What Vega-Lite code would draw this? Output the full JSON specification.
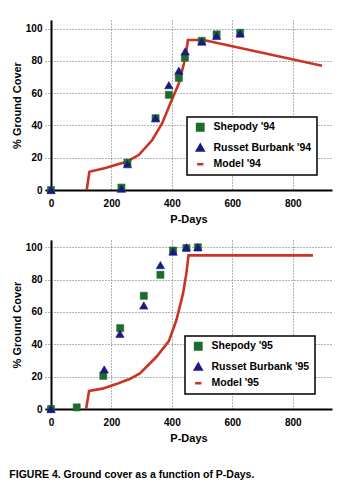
{
  "$schema": "https://vega.github.io/schema/vega-lite/v6.json",
  "padding": {"left": 9, "top": 20, "right": 5, "bottom": 5},
  "background": "white",
  "config": {
    "font": "Liberation Sans",
    "view": {"stroke": null},
    "axis": {
      "domainColor": "black", "domainWidth": 2, "ticks": false,
      "labelFont": "Liberation Sans", "labelFontSize": 10, "labelFontWeight": "bold", "labelColor": "black",
      "titleFont": "Liberation Sans", "titleFontSize": 11, "titleFontWeight": "bold", "titleColor": "black",
      "gridColor": "#444", "gridDash": [1, 2], "gridWidth": 0.8, "gridOpacity": 1
    },
    "legend": {
      "labelFont": "Liberation Sans", "labelFontSize": 10.5, "labelFontWeight": "bold", "labelColor": "black",
      "strokeColor": "black", "strokeWidth": 1.5, "fillColor": "white", "padding": 5, "rowPadding": 3.5,
      "symbolSize": 40, "symbolStrokeWidth": 2.5, "labelOffset": 8, "symbolOffset": 3
    }
  },
  "title": {
    "text": "FIGURE 4. Ground cover as a function of P-Days.",
    "orient": "bottom", "anchor": "start", "fontSize": 10.5, "fontWeight": "bold",
    "font": "Liberation Sans", "color": "black", "offset": 27, "dx": -2
  },
  "spacing": 16,
  "resolve": {"scale": {"fill": "independent", "stroke": "independent", "shape": "independent"}, "legend": {"fill": "independent", "stroke": "independent", "shape": "independent"}},
  "datasets": {
    "pts94": [
      {"series": "Shepody '94", "pdays": 0, "cover": 0},
      {"series": "Shepody '94", "pdays": 233, "cover": 1.5},
      {"series": "Shepody '94", "pdays": 253, "cover": 17},
      {"series": "Shepody '94", "pdays": 346, "cover": 44.5},
      {"series": "Shepody '94", "pdays": 390, "cover": 59},
      {"series": "Shepody '94", "pdays": 423, "cover": 69.5},
      {"series": "Shepody '94", "pdays": 443, "cover": 82},
      {"series": "Shepody '94", "pdays": 499, "cover": 92.5},
      {"series": "Shepody '94", "pdays": 548, "cover": 96.5},
      {"series": "Shepody '94", "pdays": 626, "cover": 97.5},
      {"series": "Russet Burbank '94", "pdays": 0, "cover": 0},
      {"series": "Russet Burbank '94", "pdays": 233, "cover": 0.8},
      {"series": "Russet Burbank '94", "pdays": 253, "cover": 16},
      {"series": "Russet Burbank '94", "pdays": 346, "cover": 44.5},
      {"series": "Russet Burbank '94", "pdays": 390, "cover": 65},
      {"series": "Russet Burbank '94", "pdays": 423, "cover": 74},
      {"series": "Russet Burbank '94", "pdays": 444, "cover": 86},
      {"series": "Russet Burbank '94", "pdays": 499, "cover": 92},
      {"series": "Russet Burbank '94", "pdays": 548, "cover": 95.5},
      {"series": "Russet Burbank '94", "pdays": 626, "cover": 97}
    ],
    "mod94": [
      {"series": "Model '94", "pdays": 118, "cover": 0},
      {"series": "Model '94", "pdays": 127, "cover": 11.3},
      {"series": "Model '94", "pdays": 180, "cover": 13.6},
      {"series": "Model '94", "pdays": 252, "cover": 17.7},
      {"series": "Model '94", "pdays": 291, "cover": 21.8},
      {"series": "Model '94", "pdays": 335, "cover": 31},
      {"series": "Model '94", "pdays": 368, "cover": 41.4},
      {"series": "Model '94", "pdays": 395, "cover": 53.8},
      {"series": "Model '94", "pdays": 423, "cover": 66},
      {"series": "Model '94", "pdays": 440, "cover": 78.6},
      {"series": "Model '94", "pdays": 448, "cover": 86},
      {"series": "Model '94", "pdays": 453, "cover": 93},
      {"series": "Model '94", "pdays": 505, "cover": 93},
      {"series": "Model '94", "pdays": 897, "cover": 77}
    ],
    "pts95": [
      {"series": "Shepody '95", "pdays": 0, "cover": 0},
      {"series": "Shepody '95", "pdays": 85, "cover": 1},
      {"series": "Shepody '95", "pdays": 173, "cover": 20.5},
      {"series": "Shepody '95", "pdays": 229, "cover": 50},
      {"series": "Shepody '95", "pdays": 307, "cover": 70},
      {"series": "Shepody '95", "pdays": 362, "cover": 83},
      {"series": "Shepody '95", "pdays": 404, "cover": 98},
      {"series": "Shepody '95", "pdays": 448, "cover": 99.5},
      {"series": "Shepody '95", "pdays": 486, "cover": 100},
      {"series": "Russet Burbank '95", "pdays": 0, "cover": 0},
      {"series": "Russet Burbank '95", "pdays": 176, "cover": 24.5},
      {"series": "Russet Burbank '95", "pdays": 228, "cover": 46.5},
      {"series": "Russet Burbank '95", "pdays": 307, "cover": 64},
      {"series": "Russet Burbank '95", "pdays": 362, "cover": 89},
      {"series": "Russet Burbank '95", "pdays": 404, "cover": 97.3},
      {"series": "Russet Burbank '95", "pdays": 448, "cover": 100},
      {"series": "Russet Burbank '95", "pdays": 486, "cover": 100}
    ],
    "mod95": [
      {"series": "Model '95", "pdays": 116, "cover": 0},
      {"series": "Model '95", "pdays": 126, "cover": 11.2},
      {"series": "Model '95", "pdays": 170, "cover": 12.6},
      {"series": "Model '95", "pdays": 216, "cover": 15.4},
      {"series": "Model '95", "pdays": 260, "cover": 18.5},
      {"series": "Model '95", "pdays": 294, "cover": 22},
      {"series": "Model '95", "pdays": 349, "cover": 32.3},
      {"series": "Model '95", "pdays": 390, "cover": 42},
      {"series": "Model '95", "pdays": 415, "cover": 55},
      {"series": "Model '95", "pdays": 437, "cover": 71.5},
      {"series": "Model '95", "pdays": 448, "cover": 84},
      {"series": "Model '95", "pdays": 455, "cover": 95},
      {"series": "Model '95", "pdays": 867, "cover": 95}
    ]
  },
  "vconcat": [
    {
      "width": 287, "height": 170,
      "encoding": {
        "x": {"field": "pdays", "type": "quantitative", "scale": {"domain": [-20, 930], "nice": false},
              "axis": {"values": [0, 200, 400, 600, 800], "title": "P-Days", "grid": true, "labelPadding": 8, "titlePadding": 5}},
        "y": {"field": "cover", "type": "quantitative", "scale": {"domain": [0, 105.4], "nice": false},
              "axis": {"values": [0, 20, 40, 60, 80, 100], "title": "% Ground Cover", "grid": true, "offset": -6, "labelPadding": 9, "titlePadding": 3}}
      },
      "layer": [
        {
          "data": {"name": "mod94"},
          "mark": {"type": "line", "strokeWidth": 2.6},
          "encoding": {
            "stroke": {"field": "series", "type": "nominal",
                       "scale": {"domain": ["Shepody '94", "Russet Burbank '94", "Model '94"], "range": ["#1e6b2e", "#1a1a82", "#cc3322"]},
                       "legend": {"title": null, "orient": "none", "legendX": 142, "legendY": 97, "strokeColor": "black", "fillColor": "white"}}
          }
        },
        {
          "data": {"name": "pts94"},
          "transform": [{"filter": "indexof(datum.series, 'Shepody') >= 0"}],
          "mark": {"type": "point", "filled": true, "opacity": 1, "size": 50, "strokeWidth": 0.6},
          "encoding": {
            "fill": {"field": "series", "type": "nominal",
                     "scale": {"domain": ["Shepody '94", "Russet Burbank '94", "Model '94"], "range": ["#1e6b2e", "#1a1a82", "#cc3322"]},
                     "legend": {"title": null, "orient": "none", "legendX": 142, "legendY": 97, "strokeColor": "black", "fillColor": "white"}},
            "stroke": {"field": "series", "type": "nominal"},
            "shape": {"field": "series", "type": "nominal",
                      "scale": {"domain": ["Shepody '94", "Russet Burbank '94", "Model '94"], "range": ["square", "triangle-up", "stroke"]},
                      "legend": {"title": null, "orient": "none", "legendX": 142, "legendY": 97, "strokeColor": "black", "fillColor": "white"}}
          }
        },
        {
          "data": {"name": "pts94"},
          "transform": [{"filter": "indexof(datum.series, 'Russet') >= 0"}],
          "mark": {"type": "point", "filled": true, "opacity": 1, "size": 70, "strokeWidth": 0.6},
          "encoding": {
            "fill": {"field": "series", "type": "nominal"},
            "stroke": {"field": "series", "type": "nominal"},
            "shape": {"field": "series", "type": "nominal"}
          }
        }
      ]
    },
    {
      "width": 287, "height": 169,
      "encoding": {
        "x": {"field": "pdays", "type": "quantitative", "scale": {"domain": [-20, 930], "nice": false},
              "axis": {"values": [0, 200, 400, 600, 800], "title": "P-Days", "grid": true, "labelPadding": 8, "titlePadding": 5}},
        "y": {"field": "cover", "type": "quantitative", "scale": {"domain": [0, 104.5], "nice": false},
              "axis": {"values": [0, 20, 40, 60, 80, 100], "title": "% Ground Cover", "grid": true, "offset": -6, "labelPadding": 9, "titlePadding": 3}}
      },
      "layer": [
        {
          "data": {"name": "mod95"},
          "mark": {"type": "line", "strokeWidth": 2.6},
          "encoding": {
            "stroke": {"field": "series", "type": "nominal",
                       "scale": {"domain": ["Shepody '95", "Russet Burbank '95", "Model '95"], "range": ["#1e6b2e", "#1a1a82", "#cc3322"]},
                       "legend": {"title": null, "orient": "none", "legendX": 140, "legendY": 96, "strokeColor": "black", "fillColor": "white"}}
          }
        },
        {
          "data": {"name": "pts95"},
          "transform": [{"filter": "indexof(datum.series, 'Shepody') >= 0"}],
          "mark": {"type": "point", "filled": true, "opacity": 1, "size": 50, "strokeWidth": 0.6},
          "encoding": {
            "fill": {"field": "series", "type": "nominal",
                     "scale": {"domain": ["Shepody '95", "Russet Burbank '95", "Model '95"], "range": ["#1e6b2e", "#1a1a82", "#cc3322"]},
                     "legend": {"title": null, "orient": "none", "legendX": 140, "legendY": 96, "strokeColor": "black", "fillColor": "white"}},
            "stroke": {"field": "series", "type": "nominal"},
            "shape": {"field": "series", "type": "nominal",
                      "scale": {"domain": ["Shepody '95", "Russet Burbank '95", "Model '95"], "range": ["square", "triangle-up", "stroke"]},
                      "legend": {"title": null, "orient": "none", "legendX": 140, "legendY": 96, "strokeColor": "black", "fillColor": "white"}}
          }
        },
        {
          "data": {"name": "pts95"},
          "transform": [{"filter": "indexof(datum.series, 'Russet') >= 0"}],
          "mark": {"type": "point", "filled": true, "opacity": 1, "size": 70, "strokeWidth": 0.6},
          "encoding": {
            "fill": {"field": "series", "type": "nominal"},
            "stroke": {"field": "series", "type": "nominal"},
            "shape": {"field": "series", "type": "nominal"}
          }
        }
      ]
    }
  ]
}
